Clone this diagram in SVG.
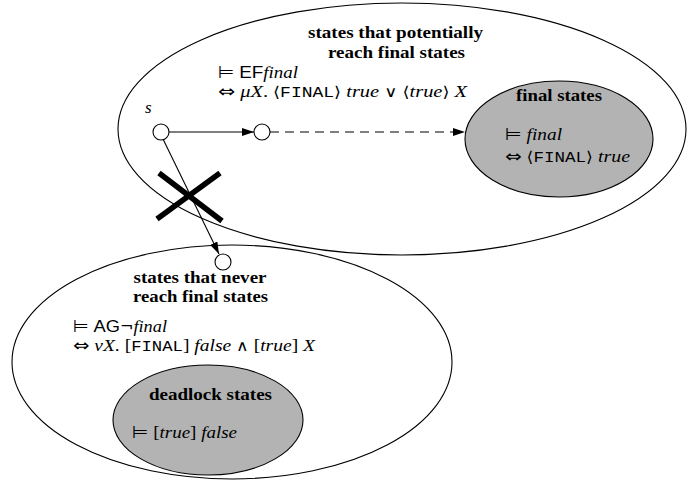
<svg xmlns="http://www.w3.org/2000/svg" width="699" height="491" viewBox="0 0 699 491">
<defs>
<style>
.reg{fill:#fff;stroke:#000;stroke-width:1.1}
.grey{fill:#b3b3b3;stroke:#000;stroke-width:1.1}
.node{fill:#fff;stroke:#000;stroke-width:1.1}
.edge{fill:none;stroke:#000;stroke-width:1.1}
.title{font-family:"Liberation Serif",serif;font-weight:bold;font-size:17px;text-anchor:middle}
.m{font-family:"Liberation Serif","DejaVu Serif",serif;font-size:17px}
.i{font-style:italic}
.sf{font-family:"Liberation Sans",sans-serif}
.tt{font-family:"Liberation Mono",monospace;font-size:15px}
.sym{font-family:"DejaVu Sans",sans-serif;font-size:15px}
.big{font-family:"DejaVu Sans",sans-serif;font-size:17px}
.cross{stroke:#000;stroke-width:5.5;stroke-linecap:butt}
</style>
<marker id="ah" viewBox="0 0 12 8" refX="12" refY="4" markerWidth="12" markerHeight="8" markerUnits="userSpaceOnUse" orient="auto">
<path d="M0,0 L12,4 L0,8 Z" fill="#000"/>
</marker>
</defs>

<g id="potential">
<ellipse class="reg" cx="402" cy="129" rx="284" ry="126"/>
<text class="title" x="395.5" y="38" textLength="175" lengthAdjust="spacingAndGlyphs">states that potentially</text>
<text class="title" x="396.5" y="58" textLength="137" lengthAdjust="spacingAndGlyphs">reach final states</text>
<text class="m" x="218" y="78" textLength="80" lengthAdjust="spacingAndGlyphs"><tspan class="big">⊨</tspan> <tspan class="sf">EF</tspan><tspan class="i">final</tspan></text>
<text class="m" x="218" y="97" textLength="249" lengthAdjust="spacingAndGlyphs"><tspan class="big">⇔</tspan> <tspan class="i">μX</tspan>. <tspan class="sym">⟨</tspan><tspan class="tt">FINAL</tspan><tspan class="sym">⟩</tspan> <tspan class="i">true</tspan> <tspan class="sym">∨</tspan> <tspan class="sym">⟨</tspan><tspan class="i">true</tspan><tspan class="sym">⟩</tspan> <tspan class="i">X</tspan></text>
</g>

<g id="never">
<ellipse class="reg" cx="232" cy="362" rx="220" ry="117"/>
<text class="title" x="200" y="283" textLength="133" lengthAdjust="spacingAndGlyphs">states that never</text>
<text class="title" x="200.5" y="302" textLength="135" lengthAdjust="spacingAndGlyphs">reach final states</text>
<text class="m" x="73" y="332" textLength="94" lengthAdjust="spacingAndGlyphs"><tspan class="big">⊨</tspan> <tspan class="sf">AG</tspan><tspan class="sym">¬</tspan><tspan class="i">final</tspan></text>
<text class="m" x="73" y="351" textLength="242" lengthAdjust="spacingAndGlyphs"><tspan class="big">⇔</tspan> <tspan class="i">νX</tspan>. [<tspan class="tt">FINAL</tspan>] <tspan class="i">false</tspan> <tspan class="sym">∧</tspan> [<tspan class="i">true</tspan>] <tspan class="i">X</tspan></text>
</g>

<g id="final">
<ellipse class="grey" cx="559" cy="139" rx="94" ry="58"/>
<text class="title" x="559" y="101" textLength="86" lengthAdjust="spacingAndGlyphs">final states</text>
<text class="m" x="505" y="140" textLength="57" lengthAdjust="spacingAndGlyphs"><tspan class="big">⊨</tspan> <tspan class="i">final</tspan></text>
<text class="m" x="505" y="162" textLength="125" lengthAdjust="spacingAndGlyphs"><tspan class="big">⇔</tspan> <tspan class="sym">⟨</tspan><tspan class="tt">FINAL</tspan><tspan class="sym">⟩</tspan> <tspan class="i">true</tspan></text>
</g>

<g id="deadlock">
<ellipse class="grey" cx="208" cy="420" rx="95" ry="55"/>
<text class="title" x="210.5" y="400" textLength="123" lengthAdjust="spacingAndGlyphs">deadlock states</text>
<text class="m" x="132" y="438" textLength="105" lengthAdjust="spacingAndGlyphs"><tspan class="big">⊨</tspan> [<tspan class="i">true</tspan>] <tspan class="i">false</tspan></text>
</g>

<g id="s">
<circle class="node" cx="161" cy="132" r="8"/>
<text class="m i" x="145" y="113">s</text>
</g>
<g id="mid">
<circle class="node" cx="262" cy="132" r="8"/>
</g>
<g id="target">
<circle class="node" cx="223" cy="262" r="8"/>
</g>

<g id="connectors">
<line class="edge" x1="169" y1="132" x2="254" y2="132" marker-end="url(#ah)"/>
<line class="edge" x1="270" y1="132" x2="465" y2="132" stroke-dasharray="9,6" marker-end="url(#ah)"/>
<line class="edge" x1="163" y1="139" x2="219" y2="254" marker-end="url(#ah)"/>
</g>

<g id="cross">
<line class="cross" x1="159" y1="173" x2="222" y2="221"/>
<line class="cross" x1="220" y1="173" x2="157" y2="219"/>
</g>
</svg>
